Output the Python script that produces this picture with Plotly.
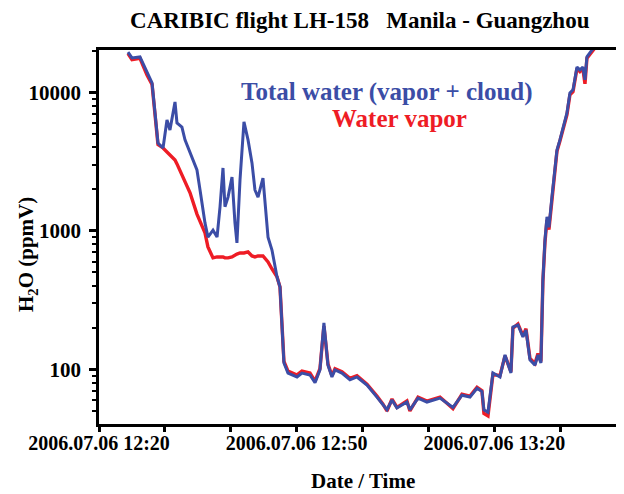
import pandas as pd
import plotly.graph_objects as go

# Zeitpunkte (UTC, 2006-07-06) und H2O-Mischungsverhaeltnis in ppmV
times = ["12:24:24", "12:25:00", "12:26:13", "12:27:17", "12:28:03", "12:28:30", "12:28:57", "12:29:43",
         "12:30:19", "12:30:46", "12:31:32", "12:31:50", "12:32:35", "12:33:03", "12:33:49", "12:34:52",
         "12:35:20", "12:36:05", "12:36:32", "12:37:18", "12:37:55", "12:38:22", "12:38:49", "12:39:07",
         "12:39:35", "12:40:11", "12:40:38", "12:40:56", "12:41:24", "12:42:00", "12:42:37", "12:43:13",
         "12:43:40", "12:44:08", "12:44:53", "12:45:11", "12:45:39", "12:46:15", "12:47:01", "12:47:28",
         "12:47:46", "12:48:04", "12:48:41", "12:50:03", "12:50:48", "12:52:01", "12:52:47", "12:53:32",
         "12:54:08", "12:54:45", "12:55:21", "12:55:49", "12:56:52", "12:58:05", "12:59:09", "13:00:40",
         "13:02:11", "13:03:06", "13:03:42", "13:04:28", "13:05:13", "13:06:44", "13:07:11", "13:08:25",
         "13:09:46", "13:11:45", "13:13:43", "13:15:05", "13:16:18", "13:17:22", "13:18:07", "13:18:25",
         "13:19:02", "13:19:47", "13:20:51", "13:21:37", "13:22:31", "13:22:49", "13:23:35", "13:24:20",
         "13:24:48", "13:25:24", "13:26:10", "13:26:37", "13:27:04", "13:27:22", "13:27:41", "13:27:59",
         "13:28:17", "13:28:44", "13:29:12", "13:29:30", "13:29:57", "13:30:25", "13:31:01", "13:31:28",
         "13:31:56", "13:32:32", "13:32:59", "13:33:26", "13:33:45", "13:34:03", "13:34:49", "13:35:34"]

total_water = [19500, 17700, 18000, 13800, 11700, 7100, 4300, 3960,
               6310, 5340, 8510, 6000, 5600, 4530, 3650, 2750,
               1970, 1140, 900, 1010, 900, 1490, 2840, 1490,
               1750, 2440, 1140, 817, 2330, 6110, 4530, 3090,
               1970, 1750, 2400, 1590, 900, 726, 464, 393,
               192, 111, 94, 88, 94, 91, 80, 99,
               216, 107, 88, 99, 94, 84, 88, 77,
               63, 55, 51, 60, 52.5, 58, 51, 62,
               58, 62, 53, 65, 63, 73, 69, 51,
               49, 94, 88, 127, 94, 202, 209, 171,
               192, 117, 107, 127, 111, 442, 859, 1260,
               1060, 1750, 2750, 3830, 4530, 5610, 7100, 9880,
               10400, 15200, 14500, 15200, 12300, 18000, 20200, 22000]

water_vapor = [19000, 17200, 17600, 13300, 11400, 6900, 4200, 3960,
               3700, 3500, 3240, 3040, 2530, 2290, 1880, 1320,
               1180, 965, 764, 637, 647, 647, 647, 637,
               637, 647, 668, 679, 691, 691, 703, 658,
               647, 658, 658, 637, 596, 530, 464, 393,
               192, 114, 97, 91, 97, 94, 82, 101,
               205, 109, 90, 101, 96, 86, 90, 78,
               64, 56, 50, 61, 53, 59, 50, 63,
               59, 63, 52, 66, 64, 74, 70, 48,
               46, 92, 90, 125, 96, 198, 212, 175,
               196, 120, 110, 130, 114, 430, 830, 1200,
               1020, 1700, 2700, 3750, 4450, 5500, 6900, 9600,
               10100, 14800, 14100, 14800, 11500, 17600, 19800, 21800]

# Achsenbeschriftung
tick_times = ["12:20", "12:30", "12:40", "12:50", "13:00", "13:10", "13:20", "13:30"]
tick_labels = ["2006.07.06 12:20", "", "", "2006.07.06 12:50", "", "", "2006.07.06 13:20", ""]

day = "2006-07-06 "
t = pd.to_datetime([day + s for s in times])
tick_vals = pd.to_datetime([day + s for s in tick_times])

BLUE = "#3B4DA6"
RED = "#EE1C25"
serif = "Liberation Serif"

fig = go.Figure()
fig.add_trace(go.Scatter(x=t, y=water_vapor, mode="lines",
                         line=dict(color=RED, width=3.4), name="Water vapor"))
fig.add_trace(go.Scatter(x=t, y=total_water, mode="lines",
                         line=dict(color=BLUE, width=3), name="Total water"))

# Legende als Text im Plot
fig.add_annotation(x=0.553, y=0.888, xref="paper", yref="paper", showarrow=False,
                   xanchor="center", yanchor="middle",
                   text="Total water (vapor + cloud)",
                   font=dict(family=serif, size=25, color=BLUE, weight="bold"))
fig.add_annotation(x=0.576, y=0.816, xref="paper", yref="paper", showarrow=False,
                   xanchor="center", yanchor="middle",
                   text="Water vapor",
                   font=dict(family=serif, size=25, color=RED, weight="bold"))

# Achsentitel als Annotationen (etwas versetzt wie im Original)
fig.add_annotation(x=0.507, y=-0.152, xref="paper", yref="paper", showarrow=False,
                   xanchor="center", yanchor="middle", text="Date / Time",
                   font=dict(family=serif, size=21, color="black", weight="bold"))
fig.add_annotation(x=-0.138, y=0.452, xref="paper", yref="paper", showarrow=False,
                   xanchor="center", yanchor="middle", textangle=-90,
                   text="H<sub>2</sub>O (ppmV)",
                   font=dict(family=serif, size=21, color="black", weight="bold"))

minor_y = [m * 10 ** e for e in (1, 2, 3, 4) for m in range(2, 10) if 40 <= m * 10 ** e <= 20000]

# die Seite hat 8 px Rand links/oben
fig.update_layout(
    width=616, height=486,
    margin=dict(l=91, r=4, t=42, b=70),
    paper_bgcolor="white", plot_bgcolor="white",
    showlegend=False,
    title=dict(text="CARIBIC flight LH-158\u00a0\u00a0\u00a0Manila - Guangzhou",
               x=0.571, xanchor="center", y=0.975, yanchor="middle",
               font=dict(family=serif, size=23, color="black", weight="bold")),
    font=dict(family=serif, color="black"),
)

fig.update_xaxes(
    type="date", automargin=False,
    range=[pd.Timestamp(day + "12:20:00"), pd.Timestamp(day + "13:39:04")],
    tickmode="array", tickvals=tick_vals, ticktext=tick_labels,
    ticks="outside", ticklen=5, tickwidth=2.5, tickcolor="black",
    showline=True, linewidth=2.5, linecolor="black", mirror=True,
    showgrid=False, zeroline=False,
    ticklabelstandoff=-6,
    tickfont=dict(family=serif, size=20, weight="bold"),
)

fig.update_yaxes(
    type="log", automargin=False,
    range=[1.605, 4.305],
    tickmode="array", tickvals=[100, 1000, 10000], ticktext=["100", "1000", "10000"],
    ticks="outside", ticklen=7, tickwidth=2.5, tickcolor="black",
    minor=dict(tickmode="array", tickvals=minor_y, ticks="outside", ticklen=4,
               tickwidth=2, tickcolor="black", showgrid=False),
    showline=True, linewidth=2.5, linecolor="black", mirror=True,
    showgrid=False, zeroline=False,
    ticklabelstandoff=4,
    tickfont=dict(family=serif, size=21, weight="bold"),
)

fig.write_html("out.html")
